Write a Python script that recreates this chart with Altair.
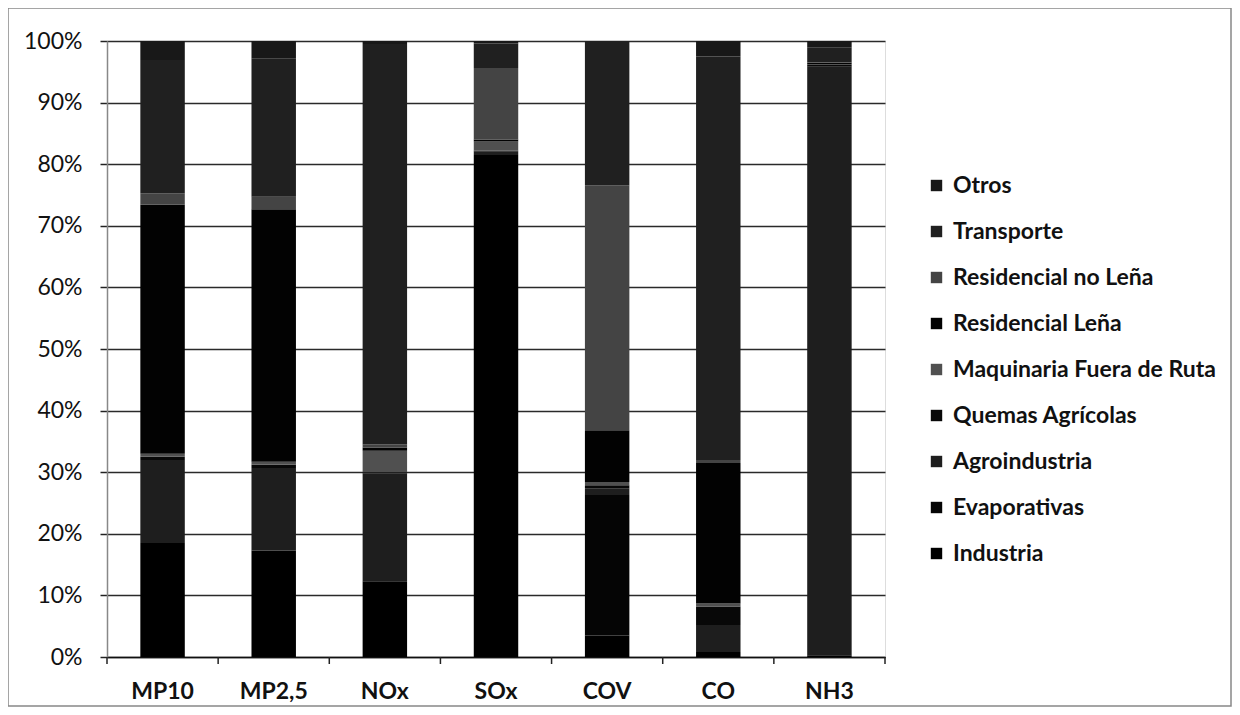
import altair as alt
import pandas as pd

categories = ["MP10", "MP2,5", "NOx", "SOx", "COV", "CO", "NH3"]
series = ["Industria", "Evaporativas", "Agroindustria", "Quemas Agrícolas",
          "Maquinaria Fuera de Ruta", "Residencial Leña", "Residencial no Leña",
          "Transporte", "Otros"]
colors = ["#000000", "#050505", "#1e1e1e", "#080808",
          "#505050", "#020202", "#444444", "#202020", "#181818"]

# percent shares per category (bottom to top, same order as series)
industria     = [18.5, 17.3, 12.3, 81.5,  3.5,  0.8,  0.3]
evaporativas  = [ 0.0,  0.0,  0.0,  0.0, 22.8,  0.0,  0.0]
agroindustria = [13.5, 13.4, 17.5,  0.6,  1.1,  4.4, 95.5]
quemas        = [ 0.5,  0.5,  0.2,  0.1,  0.5,  3.0,  0.3]
maquinaria    = [ 0.5,  0.5,  3.5,  1.5,  0.5,  0.5,  0.1]
res_lena      = [40.4, 41.0,  0.5,  0.3,  8.4, 22.8,  0.3]
res_no_lena   = [ 1.9,  2.0,  0.5, 11.6, 39.8,  0.5,  0.1]
transporte    = [21.6, 22.5, 65.0,  4.0, 23.4, 65.5,  2.4]
otros         = [ 3.1,  2.8,  0.5,  0.4,  0.0,  2.5,  1.0]

values = [industria, evaporativas, agroindustria, quemas, maquinaria,
          res_lena, res_no_lena, transporte, otros]

rows = []
for si, (s, vals) in enumerate(zip(series, values)):
    for c, v in zip(categories, vals):
        rows.append({"cat": c, "serie": s, "idx": si, "v": v / 100.0})
df = pd.DataFrame(rows)

W, H = 778, 616
FONT = "Lato"

bars = alt.Chart(df).mark_bar().encode(
    x=alt.X("cat:N", sort=categories,
            scale=alt.Scale(paddingInner=0.6, paddingOuter=0.3),
            axis=alt.Axis(title=None, labelAngle=0, ticks=False, labelPadding=23,
                          labelFontSize=23, labelFontWeight="bold", labelColor="#111111",
                          labelFont=FONT, domainColor="#111111", domainWidth=1.5, grid=False)),
    y=alt.Y("v:Q", stack="zero",
            scale=alt.Scale(domain=[0, 1], nice=False),
            axis=alt.Axis(title=None, format=".0%", values=[i / 10 for i in range(11)],
                          grid=True, gridColor="#2a2a2a", gridWidth=1.5,
                          tickSize=7, tickColor="#222222", tickWidth=1.5,
                          domainColor="#888888", domainWidth=1.5,
                          labelPadding=18, labelFontSize=23, labelColor="#111111",
                          labelFont=FONT)),
    color=alt.Color("serie:N",
                    scale=alt.Scale(domain=series[::-1], range=colors[::-1]),
                    legend=alt.Legend(title=None, orient="none", legendX=818, legendY=133,
                                      symbolType="square", symbolSize=130,
                                      symbolStrokeWidth=0, labelFontSize=23,
                                      labelFontWeight="bold", labelFont=FONT,
                                      labelColor="#111111", rowPadding=22,
                                      labelOffset=5, labelLimit=0)),
    order=alt.Order("idx:Q", sort="ascending"),
)

tick_pos = pd.DataFrame({"t": list(range(len(categories) + 1))})
ticks = alt.Chart(tick_pos).mark_rule(color="#222222", strokeWidth=1.5).encode(
    x=alt.X("t:Q", scale=alt.Scale(domain=[0, len(categories)], nice=False), axis=None),
    y=alt.value(H),
    y2=alt.value(H + 7),
)

frame = alt.Chart(pd.DataFrame({"a": [0]})).mark_rect(
    fill=None, stroke="#888888", strokeWidth=1.5
).encode(
    x=alt.value(-99), x2=alt.value(1124), y=alt.value(-33), y2=alt.value(665)
)

chart = alt.layer(bars, ticks, frame).resolve_scale(x="independent").properties(
    width=W, height=H,
    autosize=alt.AutoSizeParams(type="none"),
    padding={"left": 99, "top": 33, "right": 347, "bottom": 50},
).configure_view(stroke=None).configure(background="white")

chart.save("out.html", embed_options={"renderer": "svg", "actions": False})
